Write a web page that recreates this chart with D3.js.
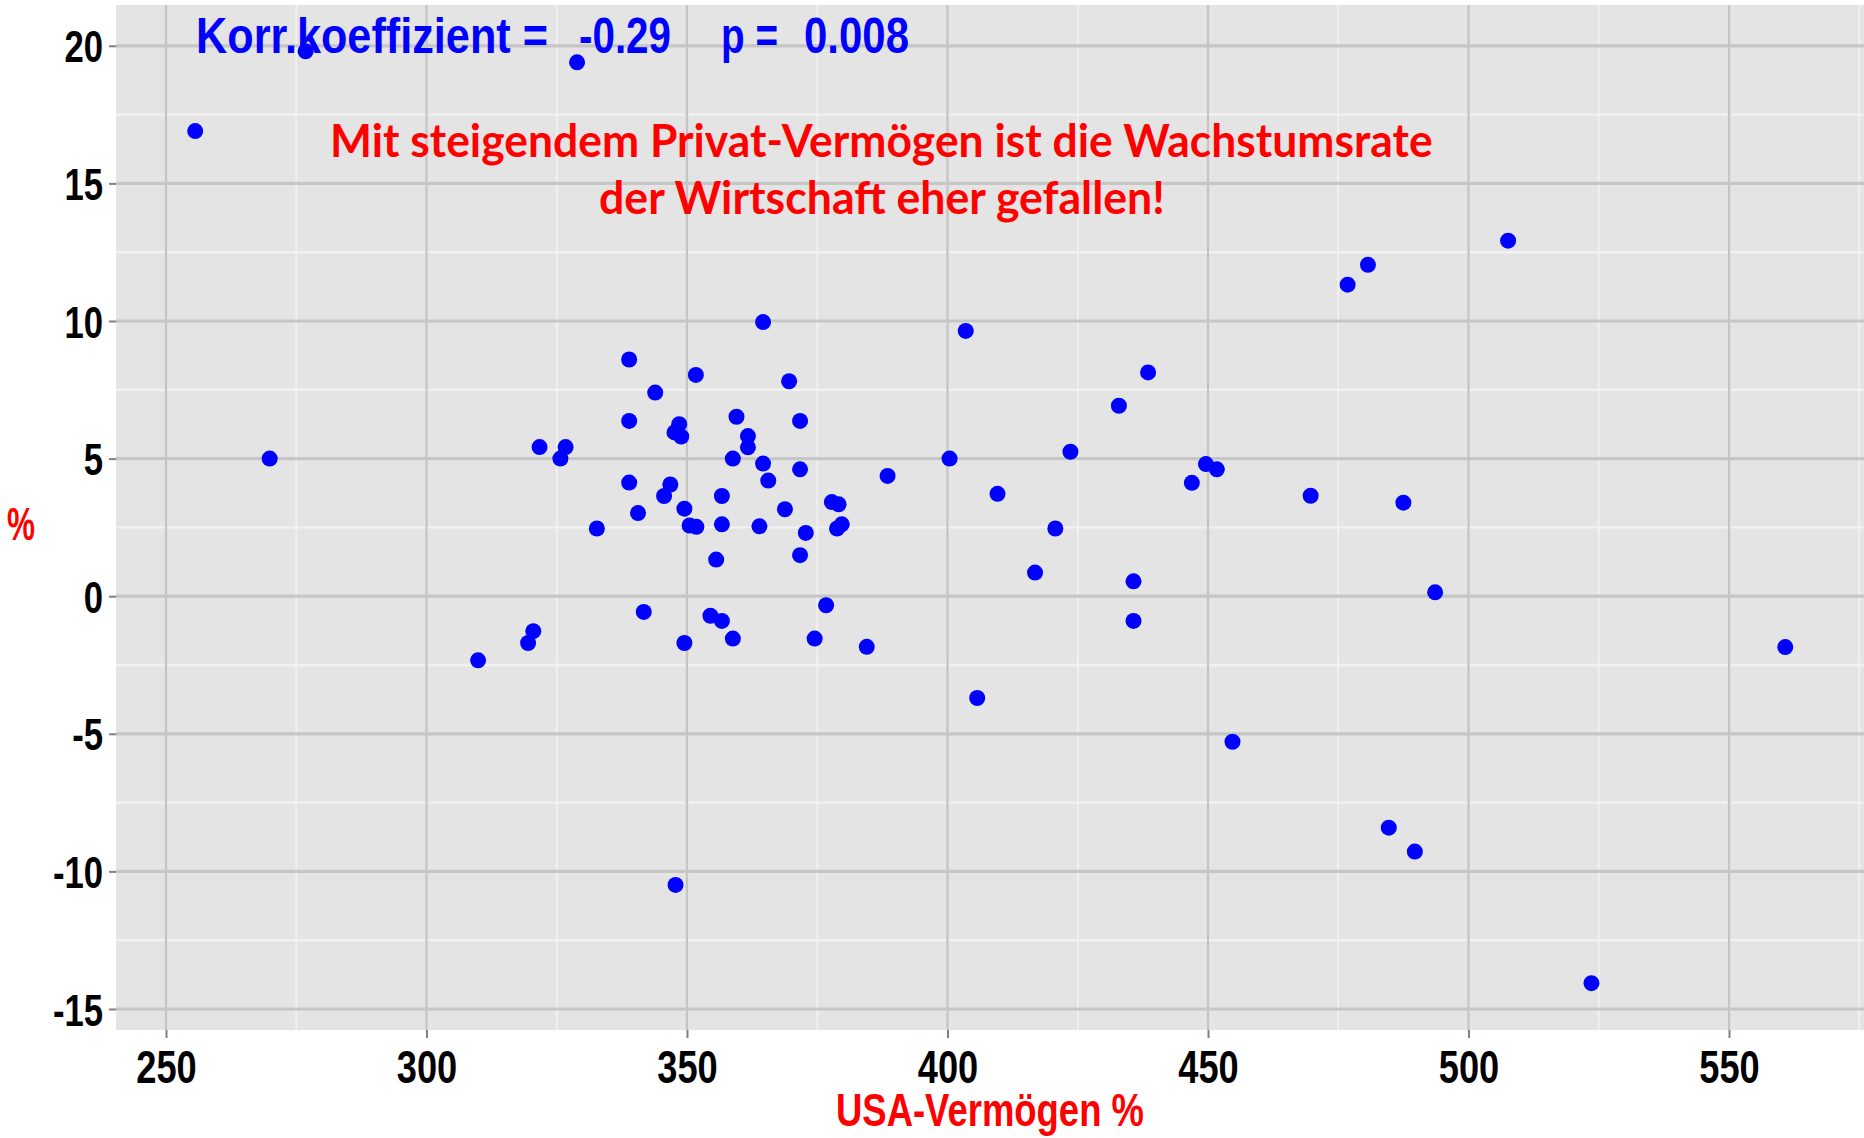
<!DOCTYPE html>
<html>
<head>
<meta charset="utf-8">
<script src="https://cdn.jsdelivr.net/npm/d3@7/dist/d3.min.js"></script>
<style>
  html, body { margin: 0; padding: 0; background: #ffffff; }
  svg { display: block; }
</style>
</head>
<body>
<svg id="chart" width="1864" height="1138"></svg>
<script>
// ---- data ----
const vermoegen = [
  255.6, 276.8, 328.9, 269.9, 309.9, 319.5, 320.5, 321.7, 325.7, 326.7,
  332.7, 338.9, 338.9, 338.9, 340.6, 341.7, 343.9, 345.6, 346.8, 347.6,
  348.5, 348.9, 347.8, 349.5, 349.5, 350.5, 351.8, 351.7, 354.5, 355.6,
  356.7, 356.7, 356.7, 358.8, 358.8, 359.5, 361.7, 361.7, 363.9, 364.6,
  364.6, 365.6, 368.8, 369.6, 371.7, 371.7, 371.7, 372.8, 374.5, 376.7,
  377.8, 379.1, 378.8, 379.7, 384.5, 388.5, 400.4, 403.5, 405.7, 409.6,
  416.8, 420.7, 423.6, 432.9, 435.7, 435.7, 438.5, 446.9, 449.6, 451.7,
  454.7, 469.7, 476.8, 480.7, 484.7, 487.5, 489.7, 493.6, 507.6, 523.6,
  560.8
];
const wachstum = [
  16.9, 19.8, 19.4, 5.0, -2.33, -1.70, -1.27, 5.42, 5.00, 5.42,
  2.46, 8.60, 6.37, 4.13, 3.02, -0.57, 7.40, 3.64, 4.06, 5.95,
  6.25, 5.80, -10.49, 3.18, -1.70, 2.57, 2.52, 8.04, -0.71, 1.33,
  3.64, 2.61, -0.90, 5.00, -1.54, 6.52, 5.82, 5.41, 2.54, 9.96,
  4.82, 4.20, 3.16, 7.81, 6.37, 4.61, 1.49, 2.30, -1.54, -0.33,
  3.42, 3.34, 2.46, 2.61, -1.84, 4.37, 5.00, 9.64, -3.70, 3.72,
  0.86, 2.46, 5.25, 6.92, 0.54, -0.90, 8.13, 4.12, 4.80, 4.61,
  -5.29, 3.65, 11.32, 12.04, -8.41, 3.40, -9.28, 0.14, 12.92, -14.06,
  -1.85
];
const xTicks = [250, 300, 350, 400, 450, 500, 550];
const yTicks = [-15, -10, -5, 0, 5, 10, 15, 20];
const xMinor = [275, 325, 375, 425, 475, 525, 575];
const yMinor = [-12.5, -7.5, -2.5, 2.5, 7.5, 12.5, 17.5];
const xTitle = "USA-Vermögen %";
const yTitle = "%";
const korrLabel = "Korr.koeffizient =";
const korrValue = "-0.29";
const pLabel = "p =";
const pValue = "0.008";
const message = ["Mit steigendem Privat-Vermögen ist die Wachstumsrate", "der Wirtschaft eher gefallen!"];

// ---- layout ----
const svg = d3.select("#chart");
const panel = { left: 116, top: 5, right: 1864, bottom: 1030 };
const x = d3.scaleLinear().domain([250, 550]).range([166, 1729]);
const y = d3.scaleLinear().domain([-15, 20]).range([1009, 45.8]);

svg.append("defs").append("clipPath").attr("id", "pclip")
  .append("rect").attr("x", panel.left).attr("y", panel.top)
  .attr("width", panel.right - panel.left).attr("height", panel.bottom - panel.top);

// panel background
svg.append("rect").attr("x", panel.left).attr("y", panel.top)
  .attr("width", panel.right - panel.left).attr("height", panel.bottom - panel.top)
  .attr("fill", "#e4e4e4");

const grid = svg.append("g").attr("clip-path", "url(#pclip)");
// minor grid (white)
grid.selectAll(".xm").data(xMinor).enter().append("line")
  .attr("x1", d => x(d)).attr("x2", d => x(d))
  .attr("y1", panel.top).attr("y2", panel.bottom)
  .attr("stroke", "#f2f2f2").attr("stroke-width", 1.6);
grid.selectAll(".ym").data(yMinor).enter().append("line")
  .attr("y1", d => y(d)).attr("y2", d => y(d))
  .attr("x1", panel.left).attr("x2", panel.right)
  .attr("stroke", "#f2f2f2").attr("stroke-width", 2.4);
// major grid (grey)
grid.selectAll(".xM").data(xTicks).enter().append("line")
  .attr("x1", d => x(d)).attr("x2", d => x(d))
  .attr("y1", panel.top).attr("y2", panel.bottom)
  .attr("stroke", "#c4c4c4").attr("stroke-width", 2.2);
grid.selectAll(".yM").data(yTicks).enter().append("line")
  .attr("y1", d => y(d)).attr("y2", d => y(d))
  .attr("x1", panel.left).attr("x2", panel.right)
  .attr("stroke", "#c6c6c6").attr("stroke-width", 3.2);

// axes
const tickFont = "'Liberation Sans', Arial, sans-serif";
const sx = 0.77;
const xAxis = svg.append("g").attr("transform", `translate(0,${panel.bottom})`)
  .call(d3.axisBottom(x).tickValues(xTicks).tickSize(8).tickFormat(d => String(d)));
xAxis.select(".domain").remove();
xAxis.selectAll(".tick line").attr("stroke", "#808080").attr("stroke-width", 2);
xAxis.selectAll(".tick text")
  .attr("y", 0).attr("dy", 0)
  .attr("transform", `translate(0,53) scale(${sx},1)`)
  .attr("font-family", tickFont).attr("font-weight", "bold")
  .attr("font-size", 47).attr("fill", "#000").attr("text-anchor", "middle");

const yAxis = svg.append("g").attr("transform", `translate(${panel.left},0)`)
  .call(d3.axisLeft(y).tickValues(yTicks).tickSize(7).tickFormat(d => String(d)));
yAxis.select(".domain").remove();
yAxis.selectAll(".tick line").attr("stroke", "#808080").attr("stroke-width", 2);
yAxis.selectAll(".tick text")
  .attr("x", 0).attr("dy", 0)
  .attr("transform", `translate(-13,16) scale(${sx},1)`)
  .attr("font-family", tickFont).attr("font-weight", "bold")
  .attr("font-size", 45).attr("fill", "#000").attr("text-anchor", "end");

// points
svg.append("g").attr("clip-path", "url(#pclip)")
  .selectAll("circle").data(vermoegen.map((v, i) => [v, wachstum[i]]))
  .enter().append("circle")
  .attr("cx", d => x(d[0])).attr("cy", d => y(d[1]))
  .attr("r", 8).attr("fill", "#0000ff");

// helper: draw text starting at (x0, base) squeezed horizontally to a target width
function fitText(str, x0, base, width, size, family, color) {
  const t = svg.append("text").text(str)
    .attr("x", 0).attr("y", 0)
    .attr("font-family", family).attr("font-weight", "bold")
    .attr("font-size", size).attr("fill", color);
  const natural = t.node().getComputedTextLength() || width;
  t.attr("transform", `translate(${x0},${base}) scale(${width / natural},1)`);
  return t;
}

// axis titles
fitText(xTitle, 836, 1126, 308, 46, tickFont, "#ff0000");
fitText(yTitle, 7, 540, 28, 47, tickFont, "#ff0000");

// correlation annotation
fitText(korrLabel, 196, 53, 352, 50, tickFont, "#0000ff");
fitText(korrValue, 579, 53, 92, 50, tickFont, "#0000ff");
fitText(pLabel, 721, 53, 57, 50, tickFont, "#0000ff");
fitText(pValue, 804, 53, 105, 50, tickFont, "#0000ff");

// red message
const msgFont = "Lato, 'Open Sans', sans-serif";
fitText(message[0], 330, 157, 1103, 45, msgFont, "#ff0000");
fitText(message[1], 599, 214, 566, 45, msgFont, "#ff0000");
</script>
</body>
</html>
